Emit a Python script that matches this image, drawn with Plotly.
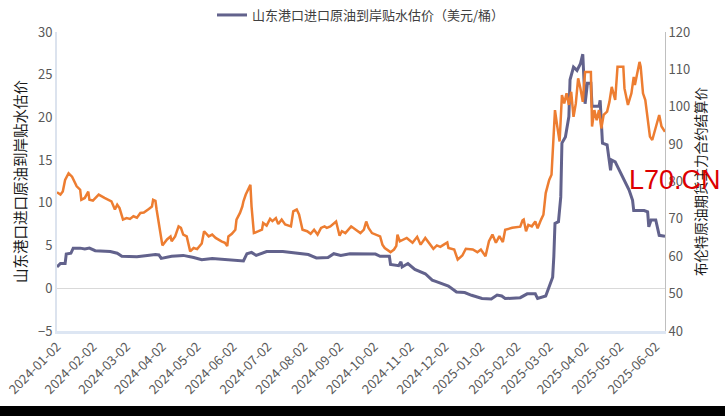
import pandas as pd
import plotly.graph_objects as go

base_date = "2024-01-02"

# 山东港口进口原油到岸贴水估价（美元/桶） — day offsets from base_date and values
premium_day = [0, 3, 7, 8, 12, 14, 20, 24, 28, 33,
               46, 52, 56, 69, 78, 85, 88, 90, 99, 109,
               118, 125, 134, 146, 161, 164, 168, 172, 181, 195,
               206, 217, 224, 234, 239, 245, 253, 266, 275, 279,
               287, 288, 295, 297, 298, 303, 309, 318, 324, 327,
               338, 345, 352, 358, 367, 375, 380, 384, 387, 400,
               406, 413, 415, 422, 425, 428, 429, 430, 433, 435,
               436, 439, 442, 443, 446, 449, 452, 454, 456, 458,
               461, 462, 468, 469, 471, 475, 478, 479, 482, 490,
               494, 497, 498, 507, 510, 511, 513, 517, 520, 525]
premium_val = [2.5, 2.9, 2.9, 4.0, 4.1, 4.7, 4.7, 4.6, 4.7, 4.4,
               4.3, 4.1, 3.75, 3.7, 3.85, 3.95, 3.9, 3.5, 3.75, 3.85,
               3.6, 3.35, 3.5, 3.4, 3.2, 4.05, 4.2, 3.85, 4.3, 4.3,
               4.1, 3.95, 3.55, 3.6, 4.05, 3.85, 4.05, 4.0, 4.0, 3.75,
               3.75, 2.8, 2.65, 3.1, 2.5, 2.9, 2.2, 1.7, 0.95, 0.8,
               0.27, -0.43, -0.5, -0.82, -1.2, -1.25, -0.8, -0.9, -1.2, -1.1,
               -0.65, -0.65, -1.2, -0.9, 0.15, 1.3, 3.7, 7.6, 7.8, 10.7,
               17.0, 17.7, 20.1, 24.4, 25.9, 25.5, 26.3, 27.4, 21.6, 24.0,
               24.0, 21.3, 21.3, 22.0, 17.0, 16.8, 13.8, 15.0, 14.8, 12.7,
               11.5, 10.3, 9.1, 9.1, 8.95, 7.2, 8.0, 8.0, 6.2, 6.1]

# 布伦特原油期货主力合约结算价 — day offsets and values
brent_day = [0, 3, 5, 7, 10, 13, 17, 20, 21, 24,
             27, 28, 31, 36, 41, 47, 50, 52, 54, 57,
             60, 63, 66, 69, 72, 75, 79, 82, 83, 85,
             86, 89, 91, 95, 98, 99, 102, 105, 107, 109,
             112, 115, 118, 121, 125, 127, 131, 134, 137, 142,
             145, 147, 148, 151, 154, 155, 158, 160, 161, 163,
             165, 167, 168, 170, 174, 177, 178, 181, 184, 186,
             189, 191, 194, 197, 202, 204, 207, 209, 212, 216,
             219, 222, 225, 228, 231, 233, 236, 241, 244, 246,
             249, 254, 258, 262, 265, 267, 269, 272, 279, 281,
             283, 288, 291, 293, 294, 296, 302, 307, 311, 314,
             318, 321, 325, 328, 331, 334, 337, 338, 343, 346,
             350, 353, 359, 363, 366, 370, 373, 376, 379, 382,
             385, 387, 393, 400, 402, 403, 405, 407, 410, 413,
             415, 418, 420, 422, 425, 427, 429, 430, 432, 434,
             436, 438, 440, 442, 444, 446, 448, 450, 452, 454,
             456, 461, 462, 464, 466, 468, 470, 472, 475, 477,
             479, 482, 484, 489, 490, 493, 496, 498, 499, 503,
             504, 506, 508, 510, 512, 514, 517, 520, 522, 525]
brent_val = [77.1, 76.5, 77.3, 80.4, 82.2, 81.3, 78.7, 77.8, 75.1, 75.6,
             77.3, 75.1, 74.9, 76.5, 75.6, 74.7, 72.5, 73.8, 72.9, 69.8,
             70.2, 70.0, 70.7, 70.3, 71.6, 71.7, 72.6, 73.3, 75.1, 74.8,
             72.5, 66.2, 62.9, 64.5, 65.3, 64.0, 65.3, 68.0, 67.6, 65.8,
             65.3, 61.3, 62.2, 61.9, 63.4, 66.7, 65.3, 65.8, 64.9, 64.0,
             63.6, 62.7, 65.3, 66.0, 67.1, 69.8, 71.6, 73.3, 74.7, 76.5,
             77.8, 79.1, 73.3, 66.2, 66.7, 67.1, 68.9, 68.2, 70.0, 69.4,
             70.2, 68.6, 69.8, 68.5, 68.0, 72.0, 72.5, 71.2, 67.1, 66.7,
             66.0, 67.1, 65.8, 67.6, 68.0, 67.6, 68.0, 69.3, 65.5, 66.7,
             66.2, 68.0, 67.1, 66.2, 67.1, 69.3, 67.6, 66.2, 65.3, 63.1,
             62.2, 61.1, 61.8, 62.8, 65.8, 64.0, 64.9, 63.6, 65.2, 63.1,
             64.9, 63.6, 62.0, 62.9, 62.5, 63.1, 63.7, 62.2, 61.8, 59.1,
             60.2, 62.0, 61.8, 61.1, 61.8, 60.0, 64.0, 65.8, 63.6, 65.4,
             63.8, 67.1, 67.6, 67.9, 69.6, 69.8, 66.7, 68.4, 68.0, 69.3,
             67.5, 69.8, 71.1, 76.9, 80.4, 81.8, 92.0, 99.1, 94.7, 90.7,
             103.1, 100.9, 103.6, 100.5, 104.0, 97.3, 100.9, 107.6, 104.9, 101.3,
             109.3, 109.3, 94.7, 99.1, 96.4, 99.1, 94.2, 97.8, 98.7, 101.3,
             105.3, 101.8, 110.7, 110.7, 104.9, 100.5, 103.6, 108.0, 105.8, 112.0,
             110.7, 103.6, 101.8, 96.4, 92.0, 91.1, 94.2, 97.8, 94.7, 93.3]

premium_name = "山东港口进口原油到岸贴水估价（美元/桶）"
left_title = "山东港口进口原油到岸贴水估价"
right_title = "布伦特原油期货主力合约结算价"

t0 = pd.Timestamp(base_date)
premium_x = [t0 + pd.Timedelta(days=d) for d in premium_day]
brent_x = [t0 + pd.Timedelta(days=d) for d in brent_day]

FONT = "Microsoft YaHei, Noto Sans CJK SC, sans-serif"
TICK_COLOR = "#595959"

fig = go.Figure()
fig.add_trace(go.Scatter(
    x=brent_x, y=brent_val, mode="lines", name=right_title, yaxis="y2",
    line=dict(color="#ED7D31", width=2.5), showlegend=False))
fig.add_trace(go.Scatter(
    x=premium_x, y=premium_val, mode="lines", name=premium_name,
    line=dict(color="#62628c", width=3)))

fig.update_layout(
    width=725, height=416,
    margin=dict(l=57, r=60, t=32, b=85, autoexpand=False),
    paper_bgcolor="white", plot_bgcolor="white",
    font=dict(family=FONT, size=13, color=TICK_COLOR),
    showlegend=True,
    legend=dict(orientation="h", x=0.5, xanchor="center", y=1.107, yanchor="top",
                font=dict(size=13, color="#404040"), bgcolor="rgba(0,0,0,0)"),
    xaxis=dict(
        type="date", range=["2024-01-02", "2025-06-10"],
        tick0="2024-01-02", dtick="M1", tickformat="%Y-%m-%d",
        tickangle=-45, tickfont=dict(size=13, color=TICK_COLOR),
        showgrid=False, zeroline=False,
        showline=True, linecolor="#dde6f3", linewidth=3, ticks=""),
    yaxis=dict(
        range=[-5, 30], dtick=5, tickfont=dict(size=13, color=TICK_COLOR),
        showgrid=False, zeroline=True, zerolinecolor="#d9d9d9", zerolinewidth=1,
        showline=True, linecolor="#dce3ee", linewidth=2, ticks="",
        title=dict(text=left_title, font=dict(size=14.5, color="#1a1a1a"), standoff=8)),
    yaxis2=dict(
        range=[40, 120], dtick=10, overlaying="y", side="right",
        tickfont=dict(size=13, color=TICK_COLOR),
        showgrid=False, zeroline=False,
        showline=True, linecolor="#bfbfbf", linewidth=1, ticks="",
        title=dict(text=right_title, font=dict(size=13.5, color="#1a1a1a"), standoff=1)),
    annotations=[dict(
        text="L70.CN", xref="paper", yref="paper", x=1.016, y=0.505,
        xanchor="center", yanchor="middle", showarrow=False,
        font=dict(family="Liberation Sans, Arial, sans-serif", size=27, color="#dd0000"))],
    shapes=[dict(
        type="rect", xref="paper", yref="paper",
        x0=-0.1, x1=1.11, y0=-0.29, y1=-0.251,
        fillcolor="black", line=dict(width=0), layer="above")],
)

fig.write_html("out.html")
